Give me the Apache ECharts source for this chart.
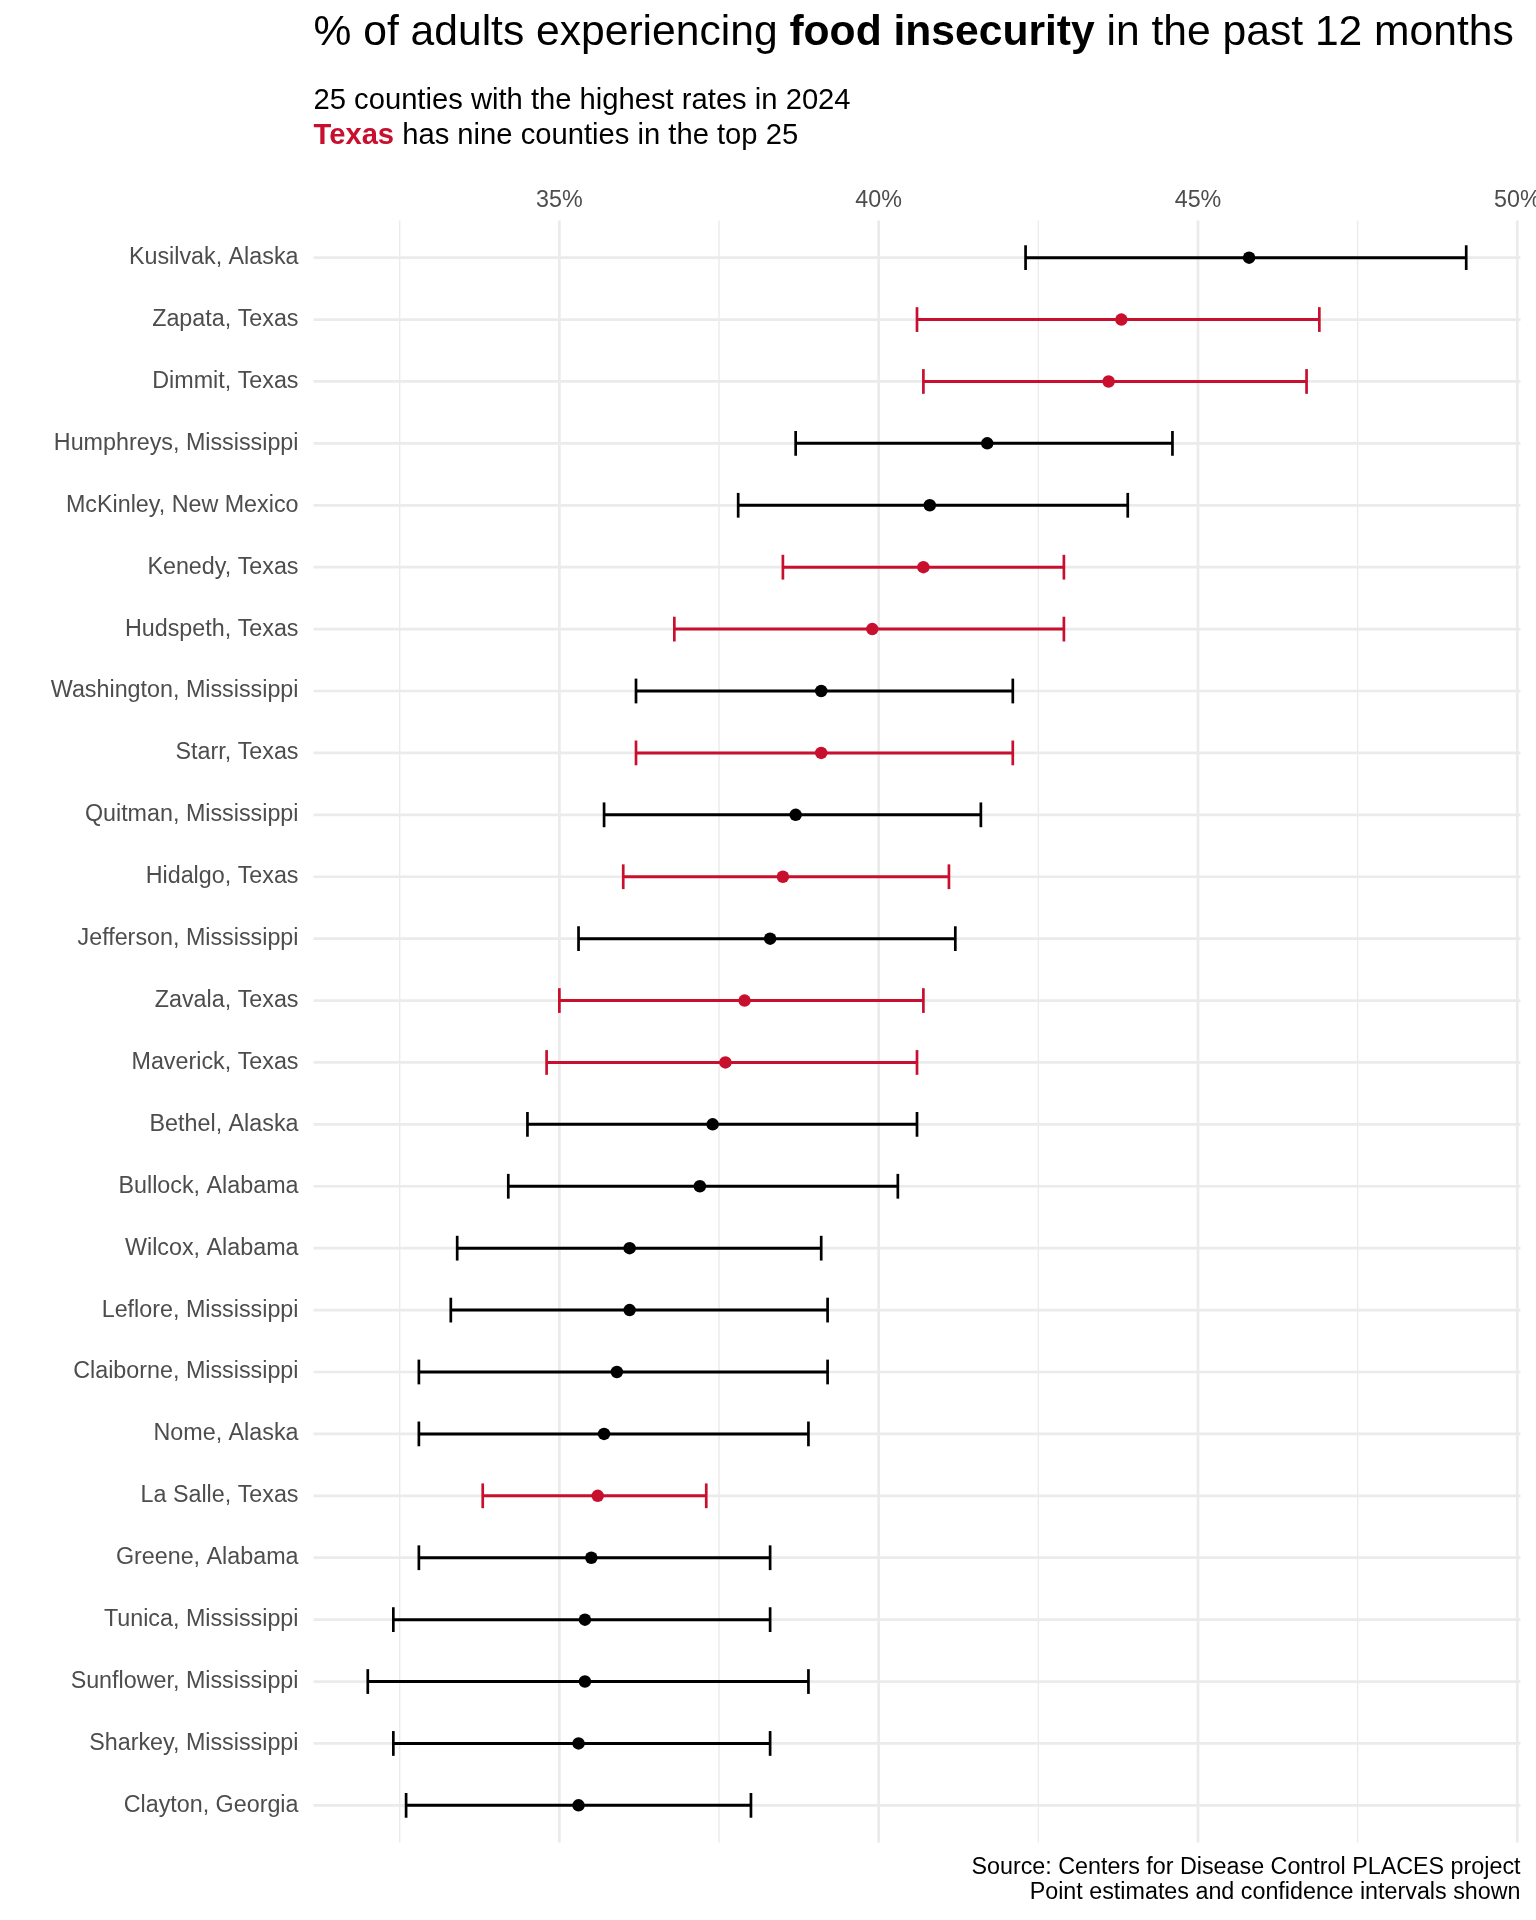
<!DOCTYPE html>
<html><head><meta charset="utf-8">
<script src="https://cdn.jsdelivr.net/npm/echarts@6/dist/echarts.min.js"></script>
<style>html,body{margin:0;padding:0;background:#fff;overflow:hidden}#c{width:1536px;height:1920px}</style>
</head><body><div id="c"></div>
<script>
// ---- data (top to bottom) ----
const counties = [
  "Kusilvak, Alaska","Zapata, Texas","Dimmit, Texas","Humphreys, Mississippi","McKinley, New Mexico",
  "Kenedy, Texas","Hudspeth, Texas","Washington, Mississippi","Starr, Texas","Quitman, Mississippi",
  "Hidalgo, Texas","Jefferson, Mississippi","Zavala, Texas","Maverick, Texas","Bethel, Alaska",
  "Bullock, Alabama","Wilcox, Alabama","Leflore, Mississippi","Claiborne, Mississippi","Nome, Alaska",
  "La Salle, Texas","Greene, Alabama","Tunica, Mississippi","Sunflower, Mississippi","Sharkey, Mississippi",
  "Clayton, Georgia"
];
const estimate = [45.8,43.8,43.6,41.7,40.8,40.7,39.9,39.1,39.1,38.7,38.5,38.3,37.9,37.6,37.4,37.2,36.1,36.1,35.9,35.7,35.6,35.5,35.4,35.4,35.3,35.3];
const lower    = [42.3,40.6,40.7,38.7,37.8,38.5,36.8,36.2,36.2,35.7,36.0,35.3,35.0,34.8,34.5,34.2,33.4,33.3,32.8,32.8,33.8,32.8,32.4,32.0,32.4,32.6];
const upper    = [49.2,46.9,46.7,44.6,43.9,42.9,42.9,42.1,42.1,41.6,41.1,41.2,40.7,40.6,40.6,40.3,39.1,39.2,39.2,38.9,37.3,38.3,38.3,38.9,38.3,38.0];
const xTickLabels = [35,40,45,50];
const xMinorGrid = [32.5,37.5,42.5,47.5];

// ---- layout / style ----
const FONT = "'Liberation Sans', Arial, Helvetica, sans-serif";
const RED = '#C8102E';
const GRID_COL = '#EBEBEB';
const X_MIN = 31.15, X_MAX = 50.05;
const N = counties.length;
const Y_MIN = -0.6, Y_MAX = N - 1 + 0.6;
const isTexas = counties.map(c => /, Texas$/.test(c));
const rows = counties.map((c, i) => i);

const chart = echarts.init(document.getElementById('c'), null, {renderer: 'canvas'});

const option = {
  animation: false,
  backgroundColor: '#fff',
  grid: {left: 313.5, right: 15.5, top: 220.5, bottom: 77.5, containLabel: false, outerBoundsMode: 'none'},
  xAxis: {
    type: 'value', position: 'top', min: X_MIN, max: X_MAX,
    axisLine: {show: false}, axisTick: {show: false}, splitLine: {show: false},
    axisLabel: {customValues: xTickLabels, formatter: v => v + '%', margin: 8,
      color: '#4D4D4D', fontSize: 23.3, fontFamily: FONT, hideOverlap: false}
  },
  yAxis: {
    type: 'value', min: Y_MIN, max: Y_MAX, inverse: true,
    axisLine: {show: false}, axisTick: {show: false}, splitLine: {show: false},
    axisLabel: {customValues: rows, formatter: v => counties[Math.round(v)] || '', margin: 15,
      padding: [3, 0, 0, 0],
      color: '#4D4D4D', fontSize: 23.3, fontFamily: FONT}
  },
  series: [
    { // horizontal major gridlines at each county
      type: 'custom', silent: true, clip: false, z: 0,
      data: rows.map(i => [X_MIN, i]),
      encode: {x: 0, y: 1},
      renderItem: (params, api) => {
        const i = api.value(1);
        const a = api.coord([X_MIN, i]), b = api.coord([X_MAX, i]);
        return {type: 'line', shape: {x1: a[0], y1: a[1], x2: b[0], y2: b[1]},
          style: {stroke: GRID_COL, lineWidth: 2.7}};
      }
    },
    { // vertical gridlines
      type: 'custom', silent: true, clip: false, z: 0,
      data: xTickLabels.map(v => [v, 1]).concat(xMinorGrid.map(v => [v, 0])),
      encode: {x: 0},
      renderItem: (params, api) => {
        const v = api.value(0), major = api.value(1) === 1;
        const a = api.coord([v, Y_MIN]), b = api.coord([v, Y_MAX]);
        return {type: 'line', shape: {x1: a[0], y1: a[1], x2: b[0], y2: b[1]},
          style: {stroke: GRID_COL, lineWidth: major ? 2.7 : 1.4}};
      }
    },
    { // error bars
      type: 'custom', clip: false, z: 2,
      data: rows.map(i => [i, lower[i], upper[i], isTexas[i] ? 1 : 0]),
      encode: {x: [1, 2], y: 0},
      renderItem: (params, api) => {
        const i = api.value(0), lo = api.value(1), hi = api.value(2);
        const col = api.value(3) === 1 ? RED : '#000';
        const pl = api.coord([lo, i]), ph = api.coord([hi, i]);
        const half = api.size([0, 0.2])[1];
        const st = {stroke: col, lineWidth: 3};
        return {type: 'group', children: [
          {type: 'line', shape: {x1: pl[0], y1: pl[1], x2: ph[0], y2: ph[1]}, style: st},
          {type: 'line', shape: {x1: pl[0], y1: pl[1] - half, x2: pl[0], y2: pl[1] + half}, style: {stroke: col, lineWidth: 2.7}},
          {type: 'line', shape: {x1: ph[0], y1: ph[1] - half, x2: ph[0], y2: ph[1] + half}, style: {stroke: col, lineWidth: 2.7}}
        ]};
      }
    },
    { // point estimates
      type: 'scatter', z: 3, symbol: 'circle', symbolSize: 12.5,
      data: rows.map(i => [estimate[i], i]),
      itemStyle: {color: p => isTexas[p.dataIndex] ? RED : '#000', opacity: 1}
    }
  ],
  graphic: [
    {type: 'text', x: 313.5, y: 33, style: {
      text: '{a|% of adults experiencing }{b|food insecurity}{a| in the past 12 months}',
      verticalAlign: 'middle', align: 'left',
      rich: {
        a: {fontSize: 42.6, fontFamily: FONT, fill: '#000', lineHeight: 50},
        b: {fontSize: 42.6, fontFamily: FONT, fontWeight: 'bold', fill: '#000', lineHeight: 50}
      }}},
    {type: 'text', x: 313.5, y: 101.2, style: {
      text: '25 counties with the highest rates in 2024', verticalAlign: 'middle', align: 'left',
      fontSize: 29.2, fontFamily: FONT, fill: '#000'}},
    {type: 'text', x: 313.5, y: 136.2, style: {
      text: '{r|Texas}{a| has nine counties in the top 25}', verticalAlign: 'middle', align: 'left',
      rich: {
        r: {fontSize: 29.2, fontFamily: FONT, fontWeight: 'bold', fill: RED, lineHeight: 34},
        a: {fontSize: 29.2, fontFamily: FONT, fill: '#000', lineHeight: 34}
      }}},
    {type: 'text', x: 1520.5, y: 1867.6, style: {
      text: 'Source: Centers for Disease Control PLACES project', verticalAlign: 'middle', align: 'right',
      fontSize: 23.3, fontFamily: FONT, fill: '#000'}},
    {type: 'text', x: 1520.5, y: 1892.6, style: {
      text: 'Point estimates and confidence intervals shown', verticalAlign: 'middle', align: 'right',
      fontSize: 23.3, fontFamily: FONT, fill: '#000'}}
  ]
};
chart.setOption(option);
</script>
</body></html>
